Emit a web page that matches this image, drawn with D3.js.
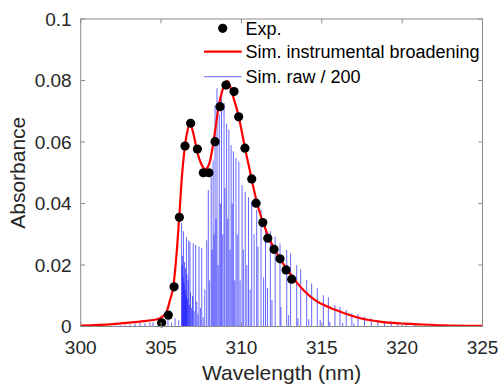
<!DOCTYPE html>
<html>
<head>
<meta charset="utf-8">
<script src="https://cdn.jsdelivr.net/npm/d3@7"></script>
<style>
  html, body { margin: 0; padding: 0; background: #fff; }
  svg { display: block; font-family: "Liberation Sans", Arial, Helvetica, sans-serif; }
</style>
</head>
<body>
<svg id="chart" width="502" height="386"></svg>
<script>
// Experimental absorbance points
const expNm  = [305.04, 305.45, 305.81, 306.14, 306.49, 306.84, 307.26, 307.63, 307.98, 308.36, 308.67, 309.04, 309.54, 309.83, 310.22, 310.64, 310.91, 311.33, 311.64, 312.03, 312.40, 312.78, 313.13];
const expAbs = [0.0012, 0.0037, 0.0129, 0.0355, 0.0587, 0.0661, 0.0577, 0.0500, 0.0500, 0.0601, 0.0715, 0.0785, 0.0764, 0.0682, 0.0580, 0.0480, 0.0401, 0.0338, 0.0287, 0.0251, 0.0220, 0.0184, 0.0154];

// Simulated spectrum with instrumental broadening
const simNm  = [300, 302, 303.7, 304.5, 304.9, 305.1, 305.35, 305.55, 305.76, 306.0, 306.15, 306.28, 306.45, 306.6, 306.8, 307.0, 307.2, 307.45, 307.75, 308.0, 308.2, 308.4, 308.6, 308.8, 309.0, 309.12, 309.3, 309.5, 309.81, 310.0, 310.22, 310.45, 310.64, 310.95, 311.36, 311.78, 312.2, 312.6, 313.0, 313.33, 313.96, 314.58, 315.2, 315.8, 316.4, 317.4, 318.6, 319.9, 321.1, 322.5, 325];
const simAbs = [0.0003, 0.0008, 0.0016, 0.0021, 0.0026, 0.0033, 0.0048, 0.0085, 0.0129, 0.0260, 0.0370, 0.0476, 0.0570, 0.0625, 0.0658, 0.0630, 0.0580, 0.0535, 0.0512, 0.0530, 0.0580, 0.0650, 0.0720, 0.0765, 0.0792, 0.0799, 0.0780, 0.0745, 0.0688, 0.0640, 0.0580, 0.0525, 0.0478, 0.0406, 0.0336, 0.0281, 0.0238, 0.0204, 0.0174, 0.0151, 0.0113, 0.0086, 0.0068, 0.0055, 0.0043, 0.0027, 0.0016, 0.0010, 0.0007, 0.0004, 0.0002];

// Raw stick spectrum (scaled by 1/200)
const rawNm  = [
  302.2, 302.5, 302.76, 303.07, 303.38, 303.69, 304.0, 304.31, 304.5, 304.81, 305.06, 305.43, 305.65, 305.87, 306.1,
  306.28, 306.31, 306.34, 306.37, 306.40, 306.43, 306.46, 306.49, 306.52, 306.55, 306.58, 306.61, 306.64, 306.68, 306.72, 306.76, 306.80, 306.84, 306.90, 306.96, 307.00, 307.06, 307.15, 307.22, 307.30, 307.36, 307.45, 307.53, 307.62,
  307.72, 307.84, 307.94, 308.02, 308.12, 308.18, 308.24, 308.30, 308.36, 308.42, 308.48, 308.55, 308.62, 308.69, 308.76, 308.84, 308.92, 308.98, 309.08, 309.15, 309.22, 309.29, 309.36, 309.43, 309.50, 309.58, 309.66, 309.74, 309.84, 309.92, 310.04, 310.12, 310.24, 310.34, 310.44, 310.54, 310.64, 310.79, 310.95, 311.03,
  311.22, 311.38, 311.50, 311.62, 311.80, 311.90, 312.10, 312.40, 312.46, 312.82, 312.94, 313.06, 313.44, 313.52, 313.69, 314.06, 314.19, 314.37, 314.72, 314.90, 315.10, 315.41, 315.50, 315.82, 316.13, 316.30, 316.52, 316.87, 317.00, 317.25, 317.66, 318.08, 318.49, 318.90, 319.32, 319.73, 320.26, 320.80, 321.40
];
const rawAbs = [
  0.0003, 0.0004, 0.0005, 0.0007, 0.0009, 0.0011, 0.0011, 0.0013, 0.0014, 0.0016, 0.0018, 0.0022, 0.0012, 0.0027, 0.0020,
  0.0336, 0.0200, 0.0230, 0.0160, 0.0310, 0.0140, 0.0210, 0.0120, 0.0190, 0.0100, 0.0290, 0.0170, 0.0090, 0.0150, 0.0280, 0.0070, 0.0275, 0.0110, 0.0060, 0.0100, 0.0270, 0.0050, 0.0265, 0.0080, 0.0040, 0.0260, 0.0060, 0.0255, 0.0030,
  0.0120, 0.0280, 0.0444, 0.0150, 0.0487, 0.0250, 0.0540, 0.0300, 0.0720, 0.0350, 0.0775, 0.0200, 0.0690, 0.0400, 0.0770, 0.0300, 0.0727, 0.0450, 0.0660, 0.0350, 0.0640, 0.0250, 0.0590, 0.0400, 0.0570, 0.0150, 0.0548, 0.0300, 0.0536, 0.0150, 0.0460, 0.0250, 0.0438, 0.0200, 0.0420, 0.0120, 0.0406, 0.0300, 0.0379, 0.0260,
  0.0380, 0.0160, 0.0343, 0.0125, 0.0310, 0.0086, 0.0292, 0.0270, 0.0063, 0.0249, 0.0037, 0.0237, 0.0200, 0.0027, 0.0186, 0.0151, 0.0024, 0.0140, 0.0124, 0.0022, 0.0102, 0.0095, 0.0015, 0.0070, 0.0064, 0.0012, 0.0054, 0.0043, 0.0010, 0.0040, 0.0032, 0.0027, 0.0021, 0.0018, 0.0016, 0.0013, 0.0011, 0.0008, 0.0006
];

const xTicks = [300, 305, 310, 315, 320, 325];
const yTicks = [0, 0.02, 0.04, 0.06, 0.08, 0.1];
const yTickLabels = ["0", "0.02", "0.04", "0.06", "0.08", "0.1"];

const legendLabels = ["Exp.", "Sim. instrumental broadening", "Sim. raw / 200"];

const svg = d3.select("#chart");
const plot = { left: 80.7, right: 482.5, top: 19, bottom: 326.5 };

const x = d3.scaleLinear().domain([300, 325]).range([plot.left, plot.right]);
const y = d3.scaleLinear().domain([0, 0.1]).range([plot.bottom, plot.top]);

const axisColor = "#8a8a8a";
const textColor = "#262626";
const stickOpacity = 0.6;

// Stick spectrum
const sticks = rawNm.map((w, i) => ({ w, a: rawAbs[i] }));
svg.append("g")
  .selectAll("line")
  .data(sticks)
  .join("line")
  .attr("x1", d => x(d.w)).attr("x2", d => x(d.w))
  .attr("y1", y(0)).attr("y2", d => y(d.a))
  .attr("stroke", "#0000ff")
  .attr("stroke-opacity", stickOpacity)
  .attr("stroke-width", 1);

// Stick spectrum baseline
svg.append("line")
  .attr("x1", x(300)).attr("x2", x(325))
  .attr("y1", y(0)).attr("y2", y(0))
  .attr("stroke", "#0000ff").attr("stroke-opacity", 0.7).attr("stroke-width", 1);

// Broadened simulation
const simPts = simNm.map((w, i) => [w, simAbs[i]]);
svg.append("path")
  .datum(simPts)
  .attr("fill", "none")
  .attr("stroke", "#ff0000")
  .attr("stroke-width", 2.2)
  .attr("d", d3.line().x(d => x(d[0])).y(d => y(d[1])).curve(d3.curveMonotoneX));

// Experimental points
svg.append("g")
  .selectAll("circle")
  .data(expNm.map((w, i) => [w, expAbs[i]]))
  .join("circle")
  .attr("cx", d => x(d[0])).attr("cy", d => y(d[1]))
  .attr("r", 4.6)
  .attr("fill", "#000");

// Axes box with inward ticks
const axes = svg.append("g");
axes.append("rect")
  .attr("x", plot.left).attr("y", plot.top)
  .attr("width", plot.right - plot.left).attr("height", plot.bottom - plot.top)
  .attr("fill", "none").attr("stroke", axisColor).attr("stroke-width", 1);

const tickLen = 4.3;
xTicks.forEach(t => {
  axes.append("line").attr("x1", x(t)).attr("x2", x(t)).attr("y1", plot.bottom).attr("y2", plot.bottom - tickLen).attr("stroke", axisColor);
  axes.append("line").attr("x1", x(t)).attr("x2", x(t)).attr("y1", plot.top).attr("y2", plot.top + tickLen).attr("stroke", axisColor);
  axes.append("text").attr("x", x(t)).attr("y", 353.5)
    .attr("text-anchor", "middle").attr("font-size", 19).attr("fill", textColor).text(t);
});
yTicks.forEach((t, i) => {
  axes.append("line").attr("x1", plot.left).attr("x2", plot.left + tickLen).attr("y1", y(t)).attr("y2", y(t)).attr("stroke", axisColor);
  axes.append("line").attr("x1", plot.right).attr("x2", plot.right - tickLen).attr("y1", y(t)).attr("y2", y(t)).attr("stroke", axisColor);
  axes.append("text").attr("x", 71.7).attr("y", y(t) + 6.8)
    .attr("text-anchor", "end").attr("font-size", 19).attr("fill", textColor).text(yTickLabels[i]);
});

// Axis titles
svg.append("text")
  .attr("x", (plot.left + plot.right) / 2).attr("y", 380)
  .attr("text-anchor", "middle").attr("font-size", 21).attr("fill", textColor)
  .text("Wavelength (nm)");
svg.append("text")
  .attr("transform", `translate(24.5, ${(plot.top + plot.bottom) / 2}) rotate(-90)`)
  .attr("text-anchor", "middle").attr("font-size", 21).attr("fill", textColor)
  .text("Absorbance");

// Legend
const leg = svg.append("g");
const rowY = [28.3, 51.7, 76.7];
leg.append("circle").attr("cx", 222.7).attr("cy", rowY[0]).attr("r", 4.6).attr("fill", "#000");
leg.append("line").attr("x1", 204).attr("x2", 241.7).attr("y1", rowY[1]).attr("y2", rowY[1])
  .attr("stroke", "#ff0000").attr("stroke-width", 2.2);
leg.append("line").attr("x1", 204).attr("x2", 241.7).attr("y1", rowY[2]).attr("y2", rowY[2])
  .attr("stroke", "#0000ff").attr("stroke-opacity", stickOpacity).attr("stroke-width", 1);
legendLabels.forEach((s, i) => {
  leg.append("text").attr("x", 245.5).attr("y", rowY[i] + 6.3)
    .attr("font-size", 18).attr("fill", "#000").text(s);
});
</script>
</body>
</html>
